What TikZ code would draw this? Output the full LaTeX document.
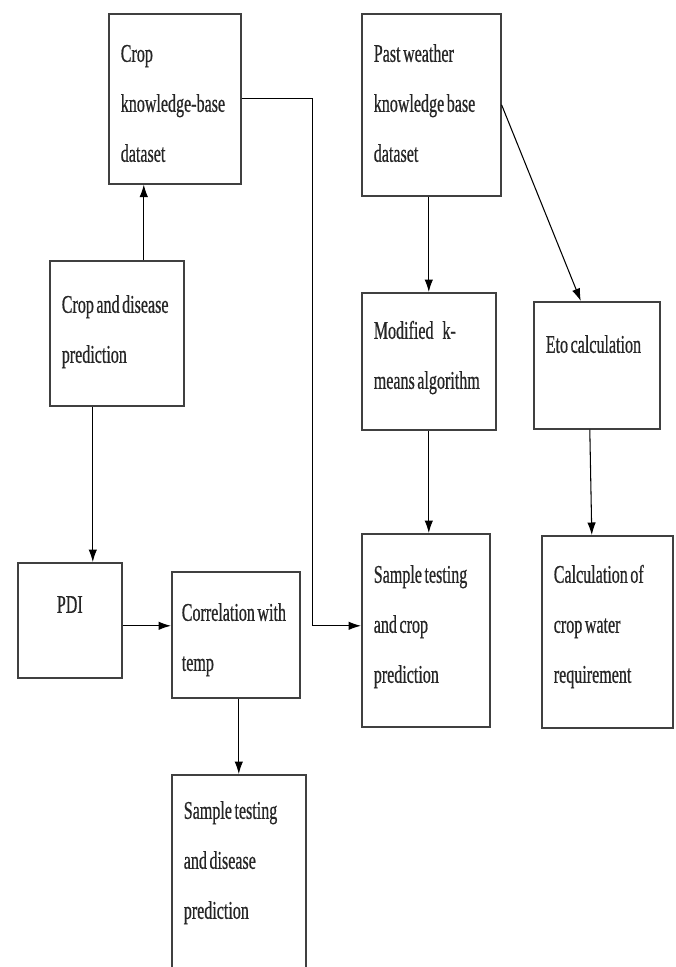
\documentclass[tikz,border=0pt]{standalone}
\usepackage{fontspec}
\setmainfont{Liberation Serif}[FakeStretch=0.63, FakeBold=0.6]
\usetikzlibrary{arrows.meta}
\newcommand\boxfont{\fontsize{14.5}{28.45}\selectfont\hyphenpenalty=10000\exhyphenpenalty=10000}

\begin{document}
\begin{tikzpicture}[font=\boxfont, every node/.style={align=flush left}]
\tikzset{
  box/.style={draw=black!75, line width=0.9pt, anchor=north west, inner xsep=0.24cm,
    inner ysep=0pt, text height=0.96cm, text=black!85,
    execute at begin node={\spaceskip=0.1em plus 0.05em\relax}},
  arrow/.style={-{Latex[length=0.25cm,width=0.17cm]}, line width=0.6pt}
}
\clip (0,0) rectangle (13.52,-19.34);
\fill[white] (0,0) rectangle (13.52,-19.34);

\node[box, text width=2.16cm, text depth=2.44cm] (cropkb) at (2.16,-0.26) {Crop\\knowledge-base\\dataset};
\node[box, text width=2.30cm, text depth=2.68cm] (weatherkb) at (7.22,-0.26) {Past weather\\knowledge base\\dataset};
\node[box, text width=2.20cm, text height=1.04cm, text depth=1.86cm] (cropdis) at (0.98,-5.20) {Crop and disease\\prediction};
\node[box, text width=2.20cm, text height=0.92cm, text depth=1.82cm] (kmeans) at (7.22,-5.84) {Modified\hspace{0.25em} k-\\means algorithm};
\node[box, text width=2.04cm, text height=1.02cm, text depth=1.52cm] (eto) at (10.66,-6.02) {Eto calculation};
\node[box, align=center, text width=1.60cm, text height=1.00cm, text depth=1.30cm] (pdi) at (0.34,-11.24) {PDI};
\node[box, inner xsep=0.2cm, text width=2.16cm, text height=0.98cm, text depth=1.54cm] (corr) at (3.42,-11.42) {Correlation with\\temp};
\node[box, text width=2.08cm, text height=0.98cm, text depth=2.88cm] (cropsample) at (7.22,-10.66) {Sample testing\\and crop\\prediction};
\node[box, text width=2.14cm, text height=0.94cm, text depth=2.90cm] (water) at (10.82,-10.70) {Calculation of\\crop water\\requirement};
\node[box, text width=2.20cm, text height=0.88cm, text depth=3.12cm] (dissample) at (3.42,-15.48) {Sample testing\\and disease\\prediction};

\draw[arrow] ([xshift=0.54cm]cropdis.north) -- ([xshift=0.54cm]cropdis.north |- cropkb.south);
\draw[arrow] ([xshift=-0.48cm]cropdis.south) -- ([xshift=-0.48cm]cropdis.south |- pdi.north);
\draw[arrow] ([yshift=-0.11cm]pdi.east) -- ([yshift=-0.11cm]pdi.east -| corr.west);
\draw[arrow] (cropkb.east) -- ++(1.42,0) |- ([yshift=0.09cm]cropsample.west);
\draw[arrow] (kmeans.north |- weatherkb.south) -- (kmeans.north);
\draw[arrow] (weatherkb.east) -- ([xshift=-0.32cm]eto.north);
\draw[arrow] (kmeans.south) -- (kmeans.south |- cropsample.north);
\draw[arrow] ([xshift=-0.14cm]eto.south) -- ([xshift=-0.31cm]water.north);
\draw[arrow] ([xshift=0.06cm]corr.south) -- ([xshift=0.06cm]corr.south |- dissample.north);
\end{tikzpicture}
\end{document}
